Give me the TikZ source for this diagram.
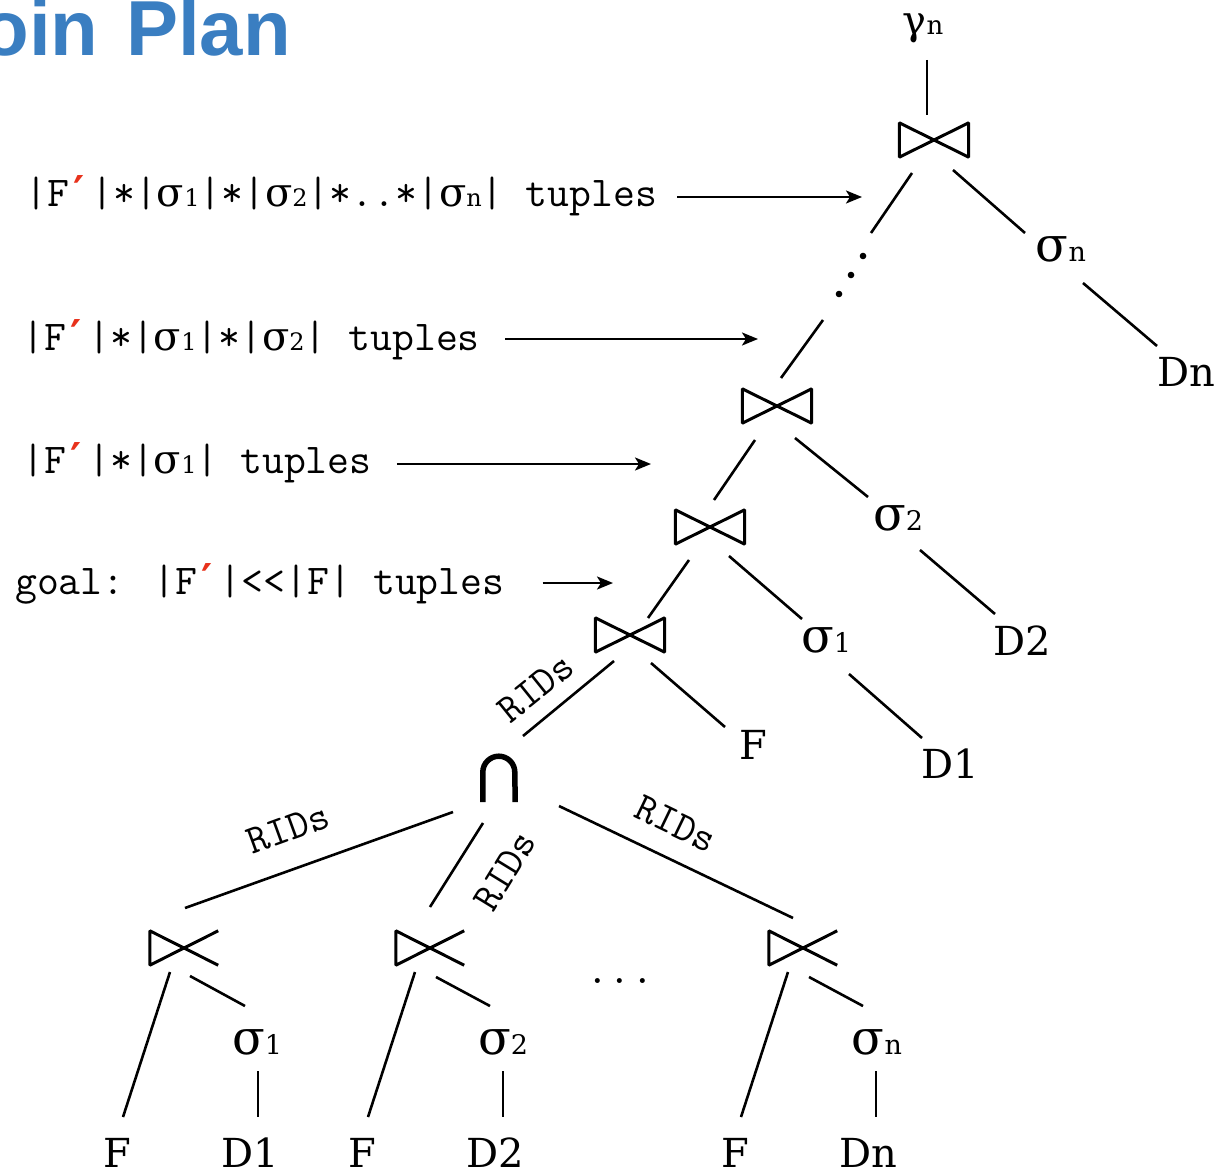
\documentclass[tikz,border=0pt]{standalone}
\usepackage{fontspec}
\usetikzlibrary{arrows.meta,calc}
\newfontfamily\serf{DejaVu Serif}
\newfontfamily\headf{Liberation Sans}
\newcommand\monof{\ttfamily}
\definecolor{titleblue}{RGB}{58,126,193}
\definecolor{primered}{RGB}{232,50,28}

% selection sigma with its index, in the tree and in the size labels
\newcommand\sgm[1]{{\fontsize{48}{48}\selectfont σ}{\fontsize{27}{27}\selectfont #1}}
\newcommand\lsg[1]{{\serf\fontsize{40}{40}\selectfont σ}{\serf\fontsize{24}{24}\selectfont #1}}
% F prime, the prime taking one monospaced cell
\newcommand\fpr{F\makebox[0.525em][l]{\hspace{0.1em}\serf\bfseries\color{primered}′}}

\tikzset{
  edge/.style={line width=2.6pt},
  tie/.style={line width=3pt, line join=bevel},
  arr/.style={line width=2.4pt, -{Stealth[length=16pt,width=13pt,inset=4pt]}},
  joinbox/.style={inner sep=0, minimum width=69pt, minimum height=34pt},
  semibox/.style={inner sep=0, minimum width=68pt, minimum height=34pt},
  lbl/.style={anchor=base west, inner sep=0, font=\monof\fontsize{42.5}{42.5}\selectfont},
  rel/.style={anchor=base, inner sep=0, font=\serf\fontsize{40}{40}\selectfont},
  sg/.style={anchor=base, inner sep=0, font=\serf},
  rid/.style={inner sep=0, font=\monof\fontsize{41}{41}\selectfont},
}

\begin{document}
\begin{tikzpicture}[x=1pt,y=-1pt]
\useasboundingbox (0,0) rectangle (1217,1169);
\clip (0,0) rectangle (1217,1169);

% heading
\node[anchor=base east, inner sep=0, font=\headf\bfseries\fontsize{78}{78}\selectfont, text=titleblue] (title) at (291,56) {Join\kern6pt{} Plan};

% ---------- upper join chain ----------
\node[anchor=base, inner sep=0, font=\serf] (gam) at (923,35) {{\fontsize{40}{40}\selectfont γ}{\fontsize{26}{26}\selectfont n}};
\node[joinbox] (j1) at (934,140) {};
\node[sg] (sn) at (1061,261) {\sgm{n}};
\node[rel] (dn) at (1186,386) {Dn};
\node[joinbox] (j2) at (777,406) {};
\node[sg] (s2) at (898,530) {\sgm{2}};
\node[rel] (d2) at (1022,655) {D2};
\node[joinbox] (j3) at (710,527) {};
\node[sg] (s1) at (826,652) {\sgm{1}};
\node[rel] (d1) at (950,778) {D1};
\node[joinbox] (j4) at (630,635) {};
\node[rel] (f0) at (753,759) {F};
\node[inner sep=0, minimum width=32pt, minimum height=46pt] (cap) at (499,779) {};

\foreach \j in {j1,j2,j3,j4}
  \draw[tie] (\j.north west) -- (\j.south west) -- (\j.north east) -- (\j.south east) -- cycle;
\draw[line width=5.5pt] (cap.south west) -- ++(0,-30) arc[start angle=180, end angle=0, radius=16pt] -- (cap.south east);

\coordinate (ua) at (871,233);
\coordinate (ub) at (823,320);
\draw[edge] ([shift={(4,25)}]gam.base) -- ([shift={(-7,-25)}]j1.center);
\draw[edge] ([shift={(-22,33)}]j1.center) -- (ua);
\fill (863,256) circle[radius=3.3pt] (851,275) circle[radius=3.3pt] (839,294) circle[radius=3.3pt];
\draw[edge] (ub) -- ([shift={(4,-28)}]j2.center);
\draw[edge] ([shift={(19,30)}]j1.center) -- ([shift={(-36,-28)}]sn.base);
\draw[edge] ([shift={(22,22)}]sn.base) -- ([shift={(-29,-40)}]dn.base);
\draw[edge] ([shift={(-22,34)}]j2.center) -- ([shift={(4,-27)}]j3.center);
\draw[edge] ([shift={(18,32)}]j2.center) -- ([shift={(-30,-33)}]s2.base);
\draw[edge] ([shift={(22,20)}]s2.base) -- ([shift={(-27,-41)}]d2.base);
\draw[edge] ([shift={(-21,33)}]j3.center) -- ([shift={(18,-17)}]j4.center);
\draw[edge] ([shift={(19,29)}]j3.center) -- ([shift={(-24,-33)}]s1.base);
\draw[edge] ([shift={(23,22)}]s1.base) -- ([shift={(-28,-40)}]d1.base);
\draw[edge] ([shift={(-16,26)}]j4.center) -- ([shift={(24,-43)}]cap.center);
\draw[edge] ([shift={(21,28)}]j4.center) -- ([shift={(-28,-32)}]f0.base);

% ---------- semi-joins below the intersection ----------
\node[semibox] (sj1) at (184,948) {};
\node[semibox] (sj2) at (430,948) {};
\node[semibox] (sj3) at (803,948) {};
\foreach \j in {sj1,sj2,sj3}
  \draw[tie] (\j.north east) -- (\j.south west) -- (\j.north west) -- (\j.south east);

\node[sg] (t1) at (257,1054) {\sgm{1}};
\node[sg] (t2) at (503,1054) {\sgm{2}};
\node[sg] (tn) at (877,1054) {\sgm{n}};
\node[rel] (fa) at (117,1167) {F};
\node[rel] (da) at (250,1167) {D1};
\node[rel] (fb) at (362,1167) {F};
\node[rel] (db) at (495,1167) {D2};
\node[rel] (fc) at (735,1167) {F};
\node[rel] (dc) at (868,1167) {Dn};
\node[anchor=base, inner sep=0, font=\monof\fontsize{44}{44}\selectfont] (more) at (620,983) {...};

\draw[edge] ([shift={(-46,33)}]cap.center) -- ([shift={(1,-40)}]sj1.center);
\draw[edge] ([shift={(-16,44)}]cap.center) -- ([shift={(0,-41)}]sj2.center);
\draw[edge] ([shift={(60,27)}]cap.center) -- ([shift={(-10,-30)}]sj3.center);

\draw[edge] ([shift={(-14,24)}]sj1.center) -- ([shift={(6,-50)}]fa.base);
\draw[edge] ([shift={(6,28)}]sj1.center) -- ([shift={(-12,-48)}]t1.base);
\draw[edge] ([shift={(1,17)}]t1.base) -- ([shift={(8,-50)}]da.base);
\draw[edge] ([shift={(-15,24)}]sj2.center) -- ([shift={(6,-50)}]fb.base);
\draw[edge] ([shift={(6,29)}]sj2.center) -- ([shift={(-13,-48)}]t2.base);
\draw[edge] ([shift={(0,17)}]t2.base) -- ([shift={(8,-50)}]db.base);
\draw[edge] ([shift={(-15,24)}]sj3.center) -- ([shift={(6,-50)}]fc.base);
\draw[edge] ([shift={(6,29)}]sj3.center) -- ([shift={(-14,-48)}]tn.base);
\draw[edge] ([shift={(-1,17)}]tn.base) -- ([shift={(8,-50)}]dc.base);

% RID streams
\node[rid, rotate=38.8] (r0) at (536,688) {RIDs};
\node[rid, rotate=20] (r1) at (288,829) {RIDs};
\node[rid, rotate=58.5] (r2) at (505,871) {RIDs};
\node[rid, rotate=-25.7] (r3) at (676,824) {RIDs};

% ---------- intermediate result sizes ----------
\node[lbl] (l1) at (25,207) {|\fpr|*|\lsg{1}|*|\lsg{2}|*..*|\lsg{n}| tuples};
\node[lbl] (l2) at (22,350) {|\fpr|*|\lsg{1}|*|\lsg{2}| tuples};
\node[lbl] (l3) at (22,473) {|\fpr|*|\lsg{1}| tuples};
\node[lbl] (l4) at (15,594) {goal: |\fpr|<{}<|F| tuples};
\coordinate (p1) at (862,197);
\coordinate (p2) at (758,339);
\coordinate (p3) at (651,464);
\coordinate (p4) at (613,583);
\draw[arr] ($(l1.east |- p1)+(20,0)$) -- (p1);
\draw[arr] ($(l2.east |- p2)+(25,0)$) -- (p2);
\draw[arr] ($(l3.east |- p3)+(25,0)$) -- (p3);
\draw[arr] ($(l4.east |- p4)+(38,0)$) -- (p4);
\end{tikzpicture}
\end{document}
